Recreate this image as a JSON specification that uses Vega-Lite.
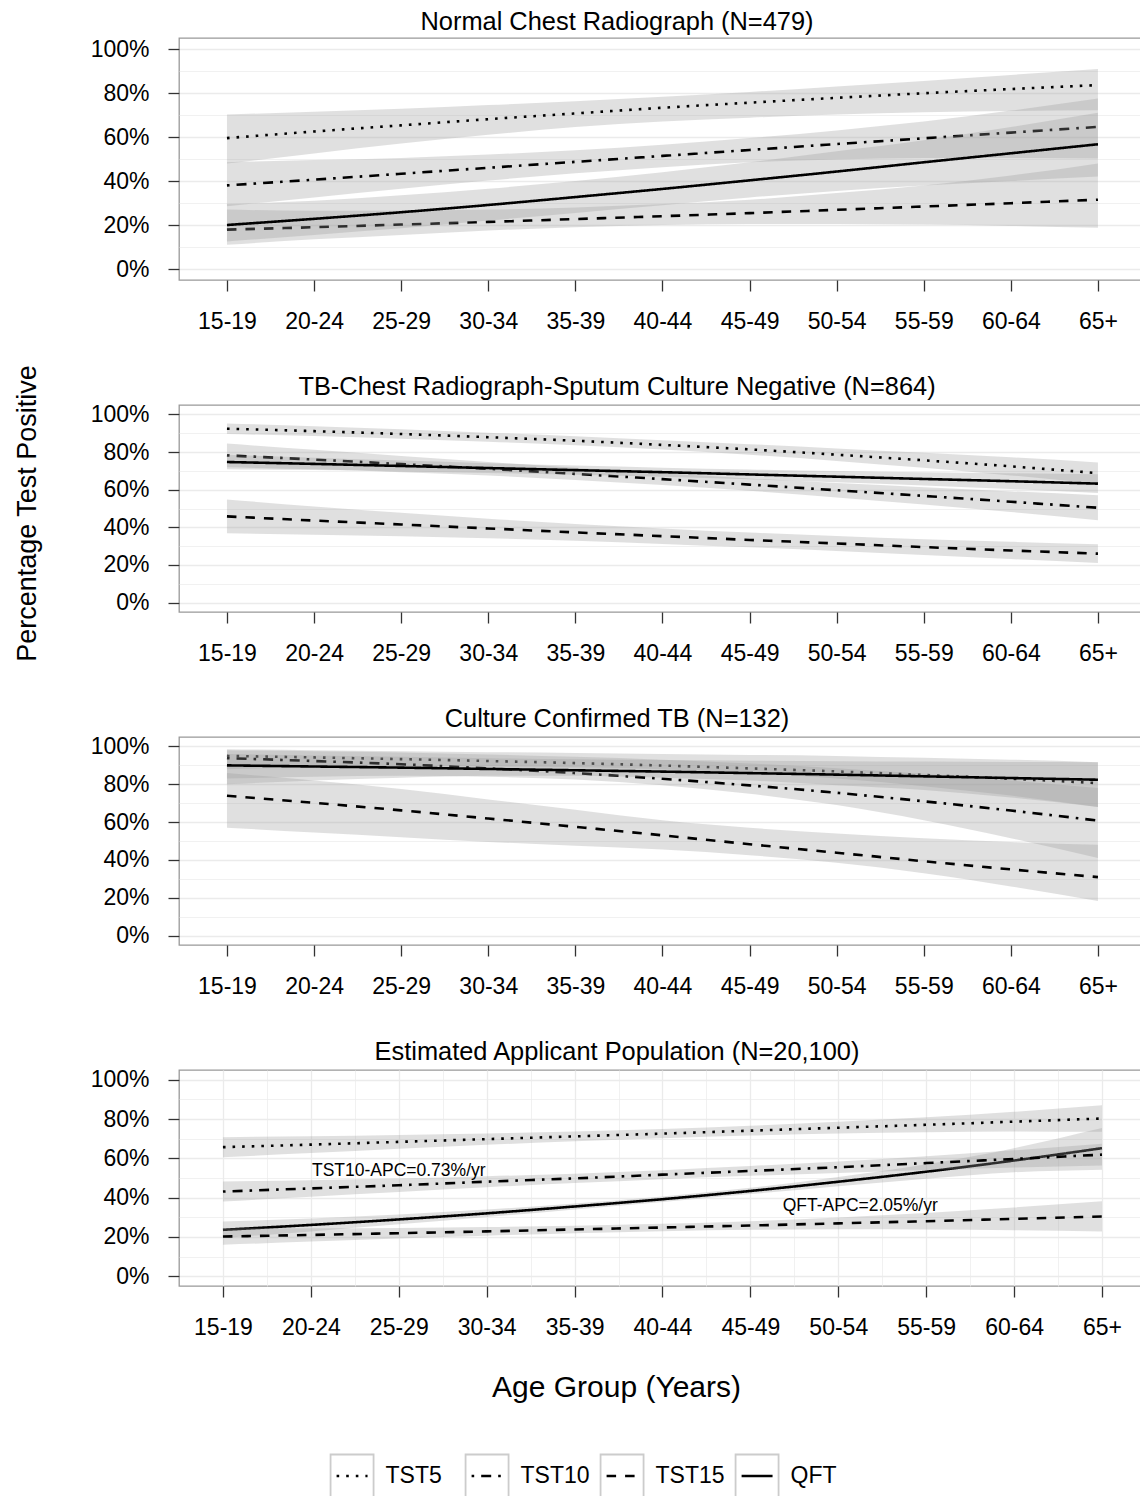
{
"$schema": "https://vega.github.io/schema/vega-lite/v6.json",
"padding": {"left": 12, "top": 8, "right": 0, "bottom": 0},
"background": "white",
"bounds": "flush",
"spacing": 125,
"config": {
  "font": "Liberation Sans",
  "view": {"stroke": "#999999", "strokeWidth": 1.3},
  "title": {"fontSize": 25.4, "fontWeight": "normal", "color": "#000000", "offset": 3},
  "axis": {"labelFontSize": 23, "labelColor": "#000000", "tickSize": 11, "tickColor": "#333333", "tickWidth": 1.3, "domain": false, "gridColor": "#EBEBEB", "titleFontWeight": "normal", "titleColor": "#000000"}
},
"datasets": {
"keys": [{"test": "TST5"}, {"test": "TST10"}, {"test": "TST15"}, {"test": "QFT"}],
"notes": [{"label": "TST10-APC=0.73%/yr", "i": 2, "pct": 0.537}, {"label": "QFT-APC=2.05%/yr", "i": 7.25, "pct": 0.358}],
"d": [
{"p":1,"test":"TST5","age":"15-19","i":0,"est":0.595,"lo":0.479,"hi":0.702},
{"p":1,"test":"TST5","age":"20-24","i":1,"est":0.625,"lo":0.525,"hi":0.715},
{"p":1,"test":"TST5","age":"25-29","i":2,"est":0.653,"lo":0.570,"hi":0.728},
{"p":1,"test":"TST5","age":"30-34","i":3,"est":0.681,"lo":0.610,"hi":0.745},
{"p":1,"test":"TST5","age":"35-39","i":4,"est":0.707,"lo":0.645,"hi":0.763},
{"p":1,"test":"TST5","age":"40-44","i":5,"est":0.733,"lo":0.670,"hi":0.783},
{"p":1,"test":"TST5","age":"45-49","i":6,"est":0.756,"lo":0.688,"hi":0.805},
{"p":1,"test":"TST5","age":"50-54","i":7,"est":0.778,"lo":0.702,"hi":0.830},
{"p":1,"test":"TST5","age":"55-59","i":8,"est":0.799,"lo":0.712,"hi":0.855},
{"p":1,"test":"TST5","age":"60-64","i":9,"est":0.818,"lo":0.718,"hi":0.882},
{"p":1,"test":"TST5","age":"65+","i":10,"est":0.836,"lo":0.722,"hi":0.909},
{"p":1,"test":"TST10","age":"15-19","i":0,"est":0.380,"lo":0.285,"hi":0.485},
{"p":1,"test":"TST10","age":"20-24","i":1,"est":0.406,"lo":0.325,"hi":0.495},
{"p":1,"test":"TST10","age":"25-29","i":2,"est":0.433,"lo":0.365,"hi":0.505},
{"p":1,"test":"TST10","age":"30-34","i":3,"est":0.460,"lo":0.402,"hi":0.520},
{"p":1,"test":"TST10","age":"35-39","i":4,"est":0.487,"lo":0.435,"hi":0.540},
{"p":1,"test":"TST10","age":"40-44","i":5,"est":0.514,"lo":0.463,"hi":0.565},
{"p":1,"test":"TST10","age":"45-49","i":6,"est":0.541,"lo":0.485,"hi":0.595},
{"p":1,"test":"TST10","age":"50-54","i":7,"est":0.568,"lo":0.498,"hi":0.630},
{"p":1,"test":"TST10","age":"55-59","i":8,"est":0.594,"lo":0.504,"hi":0.670},
{"p":1,"test":"TST10","age":"60-64","i":9,"est":0.620,"lo":0.505,"hi":0.720},
{"p":1,"test":"TST10","age":"65+","i":10,"est":0.646,"lo":0.502,"hi":0.775},
{"p":1,"test":"TST15","age":"15-19","i":0,"est":0.179,"lo":0.110,"hi":0.270},
{"p":1,"test":"TST15","age":"20-24","i":1,"est":0.190,"lo":0.135,"hi":0.265},
{"p":1,"test":"TST15","age":"25-29","i":2,"est":0.202,"lo":0.155,"hi":0.265},
{"p":1,"test":"TST15","age":"30-34","i":3,"est":0.214,"lo":0.175,"hi":0.270},
{"p":1,"test":"TST15","age":"35-39","i":4,"est":0.227,"lo":0.190,"hi":0.280},
{"p":1,"test":"TST15","age":"40-44","i":5,"est":0.240,"lo":0.200,"hi":0.295},
{"p":1,"test":"TST15","age":"45-49","i":6,"est":0.254,"lo":0.205,"hi":0.315},
{"p":1,"test":"TST15","age":"50-54","i":7,"est":0.269,"lo":0.205,"hi":0.345},
{"p":1,"test":"TST15","age":"55-59","i":8,"est":0.284,"lo":0.202,"hi":0.380},
{"p":1,"test":"TST15","age":"60-64","i":9,"est":0.299,"lo":0.196,"hi":0.425},
{"p":1,"test":"TST15","age":"65+","i":10,"est":0.315,"lo":0.187,"hi":0.480},
{"p":1,"test":"QFT","age":"15-19","i":0,"est":0.200,"lo":0.125,"hi":0.295},
{"p":1,"test":"QFT","age":"20-24","i":1,"est":0.228,"lo":0.155,"hi":0.310},
{"p":1,"test":"QFT","age":"25-29","i":2,"est":0.258,"lo":0.185,"hi":0.335},
{"p":1,"test":"QFT","age":"30-34","i":3,"est":0.291,"lo":0.220,"hi":0.365},
{"p":1,"test":"QFT","age":"35-39","i":4,"est":0.327,"lo":0.255,"hi":0.400},
{"p":1,"test":"QFT","age":"40-44","i":5,"est":0.364,"lo":0.290,"hi":0.440},
{"p":1,"test":"QFT","age":"45-49","i":6,"est":0.403,"lo":0.325,"hi":0.485},
{"p":1,"test":"QFT","age":"50-54","i":7,"est":0.443,"lo":0.355,"hi":0.535},
{"p":1,"test":"QFT","age":"55-59","i":8,"est":0.485,"lo":0.380,"hi":0.585},
{"p":1,"test":"QFT","age":"60-64","i":9,"est":0.526,"lo":0.400,"hi":0.645},
{"p":1,"test":"QFT","age":"65+","i":10,"est":0.567,"lo":0.420,"hi":0.710},
{"p":2,"test":"TST5","age":"15-19","i":0,"est":0.924,"lo":0.896,"hi":0.952},
{"p":2,"test":"TST5","age":"20-24","i":1,"est":0.911,"lo":0.885,"hi":0.937},
{"p":2,"test":"TST5","age":"25-29","i":2,"est":0.896,"lo":0.871,"hi":0.921},
{"p":2,"test":"TST5","age":"30-34","i":3,"est":0.879,"lo":0.855,"hi":0.903},
{"p":2,"test":"TST5","age":"35-39","i":4,"est":0.860,"lo":0.836,"hi":0.884},
{"p":2,"test":"TST5","age":"40-44","i":5,"est":0.838,"lo":0.813,"hi":0.863},
{"p":2,"test":"TST5","age":"45-49","i":6,"est":0.814,"lo":0.786,"hi":0.842},
{"p":2,"test":"TST5","age":"50-54","i":7,"est":0.786,"lo":0.753,"hi":0.819},
{"p":2,"test":"TST5","age":"55-59","i":8,"est":0.756,"lo":0.716,"hi":0.796},
{"p":2,"test":"TST5","age":"60-64","i":9,"est":0.724,"lo":0.676,"hi":0.772},
{"p":2,"test":"TST5","age":"65+","i":10,"est":0.688,"lo":0.631,"hi":0.745},
{"p":2,"test":"TST10","age":"15-19","i":0,"est":0.782,"lo":0.719,"hi":0.845},
{"p":2,"test":"TST10","age":"20-24","i":1,"est":0.760,"lo":0.708,"hi":0.812},
{"p":2,"test":"TST10","age":"25-29","i":2,"est":0.736,"lo":0.693,"hi":0.779},
{"p":2,"test":"TST10","age":"30-34","i":3,"est":0.711,"lo":0.675,"hi":0.747},
{"p":2,"test":"TST10","age":"35-39","i":4,"est":0.684,"lo":0.652,"hi":0.716},
{"p":2,"test":"TST10","age":"40-44","i":5,"est":0.656,"lo":0.625,"hi":0.687},
{"p":2,"test":"TST10","age":"45-49","i":6,"est":0.627,"lo":0.594,"hi":0.660},
{"p":2,"test":"TST10","age":"50-54","i":7,"est":0.597,"lo":0.559,"hi":0.635},
{"p":2,"test":"TST10","age":"55-59","i":8,"est":0.567,"lo":0.521,"hi":0.613},
{"p":2,"test":"TST10","age":"60-64","i":9,"est":0.536,"lo":0.481,"hi":0.591},
{"p":2,"test":"TST10","age":"65+","i":10,"est":0.504,"lo":0.438,"hi":0.570},
{"p":2,"test":"TST15","age":"15-19","i":0,"est":0.458,"lo":0.368,"hi":0.548},
{"p":2,"test":"TST15","age":"20-24","i":1,"est":0.436,"lo":0.361,"hi":0.511},
{"p":2,"test":"TST15","age":"25-29","i":2,"est":0.415,"lo":0.353,"hi":0.477},
{"p":2,"test":"TST15","age":"30-34","i":3,"est":0.394,"lo":0.342,"hi":0.446},
{"p":2,"test":"TST15","age":"35-39","i":4,"est":0.373,"lo":0.328,"hi":0.418},
{"p":2,"test":"TST15","age":"40-44","i":5,"est":0.353,"lo":0.312,"hi":0.394},
{"p":2,"test":"TST15","age":"45-49","i":6,"est":0.333,"lo":0.294,"hi":0.372},
{"p":2,"test":"TST15","age":"50-54","i":7,"est":0.314,"lo":0.274,"hi":0.354},
{"p":2,"test":"TST15","age":"55-59","i":8,"est":0.295,"lo":0.253,"hi":0.337},
{"p":2,"test":"TST15","age":"60-64","i":9,"est":0.277,"lo":0.231,"hi":0.323},
{"p":2,"test":"TST15","age":"65+","i":10,"est":0.260,"lo":0.210,"hi":0.310},
{"p":2,"test":"QFT","age":"15-19","i":0,"est":0.747,"lo":0.709,"hi":0.785},
{"p":2,"test":"QFT","age":"20-24","i":1,"est":0.737,"lo":0.704,"hi":0.770},
{"p":2,"test":"QFT","age":"25-29","i":2,"est":0.726,"lo":0.697,"hi":0.755},
{"p":2,"test":"QFT","age":"30-34","i":3,"est":0.715,"lo":0.689,"hi":0.741},
{"p":2,"test":"QFT","age":"35-39","i":4,"est":0.704,"lo":0.680,"hi":0.728},
{"p":2,"test":"QFT","age":"40-44","i":5,"est":0.693,"lo":0.669,"hi":0.717},
{"p":2,"test":"QFT","age":"45-49","i":6,"est":0.681,"lo":0.655,"hi":0.707},
{"p":2,"test":"QFT","age":"50-54","i":7,"est":0.669,"lo":0.639,"hi":0.699},
{"p":2,"test":"QFT","age":"55-59","i":8,"est":0.657,"lo":0.622,"hi":0.692},
{"p":2,"test":"QFT","age":"60-64","i":9,"est":0.645,"lo":0.603,"hi":0.687},
{"p":2,"test":"QFT","age":"65+","i":10,"est":0.632,"lo":0.582,"hi":0.682},
{"p":3,"test":"TST5","age":"15-19","i":0,"est":0.950,"lo":0.880,"hi":0.985},
{"p":3,"test":"TST5","age":"20-24","i":1,"est":0.942,"lo":0.890,"hi":0.980},
{"p":3,"test":"TST5","age":"25-29","i":2,"est":0.933,"lo":0.895,"hi":0.975},
{"p":3,"test":"TST5","age":"30-34","i":3,"est":0.923,"lo":0.895,"hi":0.970},
{"p":3,"test":"TST5","age":"35-39","i":4,"est":0.912,"lo":0.890,"hi":0.965},
{"p":3,"test":"TST5","age":"40-44","i":5,"est":0.899,"lo":0.880,"hi":0.960},
{"p":3,"test":"TST5","age":"45-49","i":6,"est":0.884,"lo":0.860,"hi":0.955},
{"p":3,"test":"TST5","age":"50-54","i":7,"est":0.868,"lo":0.830,"hi":0.950},
{"p":3,"test":"TST5","age":"55-59","i":8,"est":0.849,"lo":0.790,"hi":0.940},
{"p":3,"test":"TST5","age":"60-64","i":9,"est":0.829,"lo":0.740,"hi":0.930},
{"p":3,"test":"TST5","age":"65+","i":10,"est":0.806,"lo":0.680,"hi":0.917},
{"p":3,"test":"TST10","age":"15-19","i":0,"est":0.938,"lo":0.830,"hi":0.980},
{"p":3,"test":"TST10","age":"20-24","i":1,"est":0.923,"lo":0.840,"hi":0.975},
{"p":3,"test":"TST10","age":"25-29","i":2,"est":0.906,"lo":0.845,"hi":0.968},
{"p":3,"test":"TST10","age":"30-34","i":3,"est":0.884,"lo":0.840,"hi":0.958},
{"p":3,"test":"TST10","age":"35-39","i":4,"est":0.859,"lo":0.825,"hi":0.945},
{"p":3,"test":"TST10","age":"40-44","i":5,"est":0.829,"lo":0.795,"hi":0.930},
{"p":3,"test":"TST10","age":"45-49","i":6,"est":0.794,"lo":0.750,"hi":0.910},
{"p":3,"test":"TST10","age":"50-54","i":7,"est":0.755,"lo":0.690,"hi":0.885},
{"p":3,"test":"TST10","age":"55-59","i":8,"est":0.710,"lo":0.610,"hi":0.855},
{"p":3,"test":"TST10","age":"60-64","i":9,"est":0.661,"lo":0.515,"hi":0.820},
{"p":3,"test":"TST10","age":"65+","i":10,"est":0.608,"lo":0.410,"hi":0.780},
{"p":3,"test":"TST15","age":"15-19","i":0,"est":0.739,"lo":0.570,"hi":0.860},
{"p":3,"test":"TST15","age":"20-24","i":1,"est":0.702,"lo":0.545,"hi":0.820},
{"p":3,"test":"TST15","age":"25-29","i":2,"est":0.662,"lo":0.520,"hi":0.775},
{"p":3,"test":"TST15","age":"30-34","i":3,"est":0.619,"lo":0.495,"hi":0.720},
{"p":3,"test":"TST15","age":"35-39","i":4,"est":0.575,"lo":0.475,"hi":0.665},
{"p":3,"test":"TST15","age":"40-44","i":5,"est":0.530,"lo":0.455,"hi":0.610},
{"p":3,"test":"TST15","age":"45-49","i":6,"est":0.483,"lo":0.425,"hi":0.570},
{"p":3,"test":"TST15","age":"50-54","i":7,"est":0.438,"lo":0.385,"hi":0.540},
{"p":3,"test":"TST15","age":"55-59","i":8,"est":0.393,"lo":0.330,"hi":0.515},
{"p":3,"test":"TST15","age":"60-64","i":9,"est":0.350,"lo":0.260,"hi":0.495},
{"p":3,"test":"TST15","age":"65+","i":10,"est":0.309,"lo":0.183,"hi":0.480},
{"p":3,"test":"QFT","age":"15-19","i":0,"est":0.900,"lo":0.800,"hi":0.960},
{"p":3,"test":"QFT","age":"20-24","i":1,"est":0.894,"lo":0.820,"hi":0.952},
{"p":3,"test":"QFT","age":"25-29","i":2,"est":0.888,"lo":0.835,"hi":0.945},
{"p":3,"test":"QFT","age":"30-34","i":3,"est":0.881,"lo":0.845,"hi":0.938},
{"p":3,"test":"QFT","age":"35-39","i":4,"est":0.874,"lo":0.845,"hi":0.932},
{"p":3,"test":"QFT","age":"40-44","i":5,"est":0.867,"lo":0.835,"hi":0.928},
{"p":3,"test":"QFT","age":"45-49","i":6,"est":0.859,"lo":0.820,"hi":0.925},
{"p":3,"test":"QFT","age":"50-54","i":7,"est":0.851,"lo":0.795,"hi":0.922},
{"p":3,"test":"QFT","age":"55-59","i":8,"est":0.842,"lo":0.770,"hi":0.920},
{"p":3,"test":"QFT","age":"60-64","i":9,"est":0.833,"lo":0.730,"hi":0.918},
{"p":3,"test":"QFT","age":"65+","i":10,"est":0.824,"lo":0.680,"hi":0.917},
{"p":4,"test":"QFT","age":"15-19","i":0,"est":0.236,"lo":0.194,"hi":0.278},
{"p":4,"test":"QFT","age":"20-24","i":1,"est":0.261,"lo":0.228,"hi":0.294},
{"p":4,"test":"QFT","age":"25-29","i":2,"est":0.289,"lo":0.264,"hi":0.314},
{"p":4,"test":"QFT","age":"30-34","i":3,"est":0.320,"lo":0.301,"hi":0.339},
{"p":4,"test":"QFT","age":"35-39","i":4,"est":0.355,"lo":0.340,"hi":0.370},
{"p":4,"test":"QFT","age":"40-44","i":5,"est":0.392,"lo":0.378,"hi":0.406},
{"p":4,"test":"QFT","age":"45-49","i":6,"est":0.434,"lo":0.418,"hi":0.450},
{"p":4,"test":"QFT","age":"50-54","i":7,"est":0.481,"lo":0.458,"hi":0.505},
{"p":4,"test":"QFT","age":"55-59","i":8,"est":0.532,"lo":0.496,"hi":0.570},
{"p":4,"test":"QFT","age":"60-64","i":9,"est":0.589,"lo":0.529,"hi":0.652},
{"p":4,"test":"QFT","age":"65+","i":10,"est":0.652,"lo":0.542,"hi":0.754},
{"p":4,"test":"TST5","age":"15-19","i":0,"est":0.657,"lo":0.606,"hi":0.708},
{"p":4,"test":"TST5","age":"20-24","i":1,"est":0.670,"lo":0.627,"hi":0.713},
{"p":4,"test":"TST5","age":"25-29","i":2,"est":0.684,"lo":0.649,"hi":0.719},
{"p":4,"test":"TST5","age":"30-34","i":3,"est":0.698,"lo":0.669,"hi":0.727},
{"p":4,"test":"TST5","age":"35-39","i":4,"est":0.712,"lo":0.687,"hi":0.737},
{"p":4,"test":"TST5","age":"40-44","i":5,"est":0.726,"lo":0.703,"hi":0.749},
{"p":4,"test":"TST5","age":"45-49","i":6,"est":0.741,"lo":0.716,"hi":0.766},
{"p":4,"test":"TST5","age":"50-54","i":7,"est":0.756,"lo":0.726,"hi":0.786},
{"p":4,"test":"TST5","age":"55-59","i":8,"est":0.771,"lo":0.733,"hi":0.809},
{"p":4,"test":"TST5","age":"60-64","i":9,"est":0.787,"lo":0.737,"hi":0.837},
{"p":4,"test":"TST5","age":"65+","i":10,"est":0.803,"lo":0.735,"hi":0.871},
{"p":4,"test":"TST10","age":"15-19","i":0,"est":0.431,"lo":0.380,"hi":0.482},
{"p":4,"test":"TST10","age":"20-24","i":1,"est":0.447,"lo":0.405,"hi":0.489},
{"p":4,"test":"TST10","age":"25-29","i":2,"est":0.463,"lo":0.429,"hi":0.497},
{"p":4,"test":"TST10","age":"30-34","i":3,"est":0.481,"lo":0.453,"hi":0.509},
{"p":4,"test":"TST10","age":"35-39","i":4,"est":0.498,"lo":0.474,"hi":0.522},
{"p":4,"test":"TST10","age":"40-44","i":5,"est":0.517,"lo":0.494,"hi":0.540},
{"p":4,"test":"TST10","age":"45-49","i":6,"est":0.536,"lo":0.511,"hi":0.561},
{"p":4,"test":"TST10","age":"50-54","i":7,"est":0.555,"lo":0.526,"hi":0.584},
{"p":4,"test":"TST10","age":"55-59","i":8,"est":0.576,"lo":0.541,"hi":0.611},
{"p":4,"test":"TST10","age":"60-64","i":9,"est":0.597,"lo":0.553,"hi":0.641},
{"p":4,"test":"TST10","age":"65+","i":10,"est":0.619,"lo":0.564,"hi":0.674},
{"p":4,"test":"TST15","age":"15-19","i":0,"est":0.202,"lo":0.160,"hi":0.244},
{"p":4,"test":"TST15","age":"20-24","i":1,"est":0.210,"lo":0.176,"hi":0.244},
{"p":4,"test":"TST15","age":"25-29","i":2,"est":0.219,"lo":0.192,"hi":0.246},
{"p":4,"test":"TST15","age":"30-34","i":3,"est":0.228,"lo":0.206,"hi":0.250},
{"p":4,"test":"TST15","age":"35-39","i":4,"est":0.238,"lo":0.219,"hi":0.257},
{"p":4,"test":"TST15","age":"40-44","i":5,"est":0.248,"lo":0.229,"hi":0.267},
{"p":4,"test":"TST15","age":"45-49","i":6,"est":0.258,"lo":0.236,"hi":0.280},
{"p":4,"test":"TST15","age":"50-54","i":7,"est":0.269,"lo":0.239,"hi":0.299},
{"p":4,"test":"TST15","age":"55-59","i":8,"est":0.280,"lo":0.238,"hi":0.322},
{"p":4,"test":"TST15","age":"60-64","i":9,"est":0.292,"lo":0.234,"hi":0.350},
{"p":4,"test":"TST15","age":"65+","i":10,"est":0.304,"lo":0.227,"hi":0.381}
]
},
"vconcat": [
{
  "width": 962, "height": 242,
  "title": {"text": "Normal Chest Radiograph (N=479)", "dx": -43},
  "data": {"name": "d"},
  "encoding": {
    "x": {"field": "age", "type": "ordinal", "scale": {"type": "point", "domain": ["15-19","20-24","25-29","30-34","35-39","40-44","45-49","50-54","55-59","60-64","65+"], "padding": 0.5224, "align": 0.527}, "axis": {"title": null, "labelAngle": 0, "labelPadding": 19, "gridWidth": 1.3}},
    "y": {"field": "est", "type": "quantitative", "scale": {"domain": [-0.05, 1.05], "nice": false, "zero": false}, "axis": {"title": "Percentage Test Positive", "titleFontSize": 27, "titleX": -144, "titleY": 475, "titleBaseline": "alphabetic", "values": [0,0.1,0.2,0.3,0.4,0.5,0.6,0.7,0.8,0.9,1], "format": ".0%", "labelPadding": 19, "labelExpr": "round(datum.value*10)%2==0 ? datum.label : ''", "tickColor": {"condition": {"test": "round(datum.value*10)%2!=0", "value": "transparent"}, "value": "#333333"}, "gridWidth": {"condition": {"test": "round(datum.value*10)%2!=0", "value": 0.7}, "value": 1.3}}}
  },
  "layer": [
    {"transform": [{"filter": "datum.p==1 && datum.test=='TST5'"}], "mark": {"type": "area", "fill": "#999999", "fillOpacity": 0.3, "interpolate": "monotone"}, "encoding": {"y": {"field": "lo", "type": "quantitative"}, "y2": {"field": "hi"}}},
    {"transform": [{"filter": "datum.p==1 && datum.test=='TST5'"}], "mark": {"type": "line", "color": "#000000", "strokeWidth": 2.6, "interpolate": "monotone"}, "encoding": {"strokeDash": {"field": "test", "type": "nominal", "scale": {"domain": ["TST5","TST10","TST15","QFT"], "range": [[2.6,7],[2.6,7,10,7],[9.5,9],[1,0]]}, "legend": null}}},
    {"transform": [{"filter": "datum.p==1 && datum.test=='TST10'"}], "mark": {"type": "area", "fill": "#999999", "fillOpacity": 0.3, "interpolate": "monotone"}, "encoding": {"y": {"field": "lo", "type": "quantitative"}, "y2": {"field": "hi"}}},
    {"transform": [{"filter": "datum.p==1 && datum.test=='TST10'"}], "mark": {"type": "line", "color": "#000000", "strokeWidth": 2.6, "interpolate": "monotone"}, "encoding": {"strokeDash": {"field": "test", "type": "nominal", "scale": {"domain": ["TST5","TST10","TST15","QFT"], "range": [[2.6,7],[2.6,7,10,7],[9.5,9],[1,0]]}, "legend": null}}},
    {"transform": [{"filter": "datum.p==1 && datum.test=='TST15'"}], "mark": {"type": "area", "fill": "#999999", "fillOpacity": 0.3, "interpolate": "monotone"}, "encoding": {"y": {"field": "lo", "type": "quantitative"}, "y2": {"field": "hi"}}},
    {"transform": [{"filter": "datum.p==1 && datum.test=='TST15'"}], "mark": {"type": "line", "color": "#000000", "strokeWidth": 2.6, "interpolate": "monotone"}, "encoding": {"strokeDash": {"field": "test", "type": "nominal", "scale": {"domain": ["TST5","TST10","TST15","QFT"], "range": [[2.6,7],[2.6,7,10,7],[9.5,9],[1,0]]}, "legend": null}}},
    {"transform": [{"filter": "datum.p==1 && datum.test=='QFT'"}], "mark": {"type": "area", "fill": "#999999", "fillOpacity": 0.3, "interpolate": "monotone"}, "encoding": {"y": {"field": "lo", "type": "quantitative"}, "y2": {"field": "hi"}}},
    {"transform": [{"filter": "datum.p==1 && datum.test=='QFT'"}], "mark": {"type": "line", "color": "#000000", "strokeWidth": 2.6, "interpolate": "monotone"}, "encoding": {"strokeDash": {"field": "test", "type": "nominal", "scale": {"domain": ["TST5","TST10","TST15","QFT"], "range": [[2.6,7],[2.6,7,10,7],[9.5,9],[1,0]]}, "legend": null}}}
  ]
},
{
  "width": 962, "height": 207,
  "title": {"text": "TB-Chest Radiograph-Sputum Culture Negative (N=864)", "dx": -43},
  "data": {"name": "d"},
  "encoding": {
    "x": {"field": "age", "type": "ordinal", "scale": {"type": "point", "domain": ["15-19","20-24","25-29","30-34","35-39","40-44","45-49","50-54","55-59","60-64","65+"], "padding": 0.5224, "align": 0.527}, "axis": {"title": null, "labelAngle": 0, "labelPadding": 19, "gridWidth": 1.3}},
    "y": {"field": "est", "type": "quantitative", "scale": {"domain": [-0.05, 1.05], "nice": false, "zero": false}, "axis": {"title": null, "values": [0,0.1,0.2,0.3,0.4,0.5,0.6,0.7,0.8,0.9,1], "format": ".0%", "labelPadding": 19, "labelExpr": "round(datum.value*10)%2==0 ? datum.label : ''", "tickColor": {"condition": {"test": "round(datum.value*10)%2!=0", "value": "transparent"}, "value": "#333333"}, "gridWidth": {"condition": {"test": "round(datum.value*10)%2!=0", "value": 0.7}, "value": 1.3}}}
  },
  "layer": [
    {"transform": [{"filter": "datum.p==2 && datum.test=='TST5'"}], "mark": {"type": "area", "fill": "#999999", "fillOpacity": 0.3, "interpolate": "monotone"}, "encoding": {"y": {"field": "lo", "type": "quantitative"}, "y2": {"field": "hi"}}},
    {"transform": [{"filter": "datum.p==2 && datum.test=='TST5'"}], "mark": {"type": "line", "color": "#000000", "strokeWidth": 2.6, "interpolate": "monotone"}, "encoding": {"strokeDash": {"field": "test", "type": "nominal", "scale": {"domain": ["TST5","TST10","TST15","QFT"], "range": [[2.6,7],[2.6,7,10,7],[9.5,9],[1,0]]}, "legend": null}}},
    {"transform": [{"filter": "datum.p==2 && datum.test=='TST10'"}], "mark": {"type": "area", "fill": "#999999", "fillOpacity": 0.3, "interpolate": "monotone"}, "encoding": {"y": {"field": "lo", "type": "quantitative"}, "y2": {"field": "hi"}}},
    {"transform": [{"filter": "datum.p==2 && datum.test=='TST10'"}], "mark": {"type": "line", "color": "#000000", "strokeWidth": 2.6, "interpolate": "monotone"}, "encoding": {"strokeDash": {"field": "test", "type": "nominal", "scale": {"domain": ["TST5","TST10","TST15","QFT"], "range": [[2.6,7],[2.6,7,10,7],[9.5,9],[1,0]]}, "legend": null}}},
    {"transform": [{"filter": "datum.p==2 && datum.test=='TST15'"}], "mark": {"type": "area", "fill": "#999999", "fillOpacity": 0.3, "interpolate": "monotone"}, "encoding": {"y": {"field": "lo", "type": "quantitative"}, "y2": {"field": "hi"}}},
    {"transform": [{"filter": "datum.p==2 && datum.test=='TST15'"}], "mark": {"type": "line", "color": "#000000", "strokeWidth": 2.6, "interpolate": "monotone"}, "encoding": {"strokeDash": {"field": "test", "type": "nominal", "scale": {"domain": ["TST5","TST10","TST15","QFT"], "range": [[2.6,7],[2.6,7,10,7],[9.5,9],[1,0]]}, "legend": null}}},
    {"transform": [{"filter": "datum.p==2 && datum.test=='QFT'"}], "mark": {"type": "area", "fill": "#999999", "fillOpacity": 0.3, "interpolate": "monotone"}, "encoding": {"y": {"field": "lo", "type": "quantitative"}, "y2": {"field": "hi"}}},
    {"transform": [{"filter": "datum.p==2 && datum.test=='QFT'"}], "mark": {"type": "line", "color": "#000000", "strokeWidth": 2.6, "interpolate": "monotone"}, "encoding": {"strokeDash": {"field": "test", "type": "nominal", "scale": {"domain": ["TST5","TST10","TST15","QFT"], "range": [[2.6,7],[2.6,7,10,7],[9.5,9],[1,0]]}, "legend": null}}}
  ]
},
{
  "width": 962, "height": 208,
  "title": {"text": "Culture Confirmed TB (N=132)", "dx": -43},
  "data": {"name": "d"},
  "encoding": {
    "x": {"field": "age", "type": "ordinal", "scale": {"type": "point", "domain": ["15-19","20-24","25-29","30-34","35-39","40-44","45-49","50-54","55-59","60-64","65+"], "padding": 0.5224, "align": 0.527}, "axis": {"title": null, "labelAngle": 0, "labelPadding": 19, "gridWidth": 1.3}},
    "y": {"field": "est", "type": "quantitative", "scale": {"domain": [-0.05, 1.05], "nice": false, "zero": false}, "axis": {"title": null, "values": [0,0.1,0.2,0.3,0.4,0.5,0.6,0.7,0.8,0.9,1], "format": ".0%", "labelPadding": 19, "labelExpr": "round(datum.value*10)%2==0 ? datum.label : ''", "tickColor": {"condition": {"test": "round(datum.value*10)%2!=0", "value": "transparent"}, "value": "#333333"}, "gridWidth": {"condition": {"test": "round(datum.value*10)%2!=0", "value": 0.7}, "value": 1.3}}}
  },
  "layer": [
    {"transform": [{"filter": "datum.p==3 && datum.test=='TST5'"}], "mark": {"type": "area", "fill": "#999999", "fillOpacity": 0.3, "interpolate": "monotone"}, "encoding": {"y": {"field": "lo", "type": "quantitative"}, "y2": {"field": "hi"}}},
    {"transform": [{"filter": "datum.p==3 && datum.test=='TST5'"}], "mark": {"type": "line", "color": "#000000", "strokeWidth": 2.6, "interpolate": "monotone"}, "encoding": {"strokeDash": {"field": "test", "type": "nominal", "scale": {"domain": ["TST5","TST10","TST15","QFT"], "range": [[2.6,7],[2.6,7,10,7],[9.5,9],[1,0]]}, "legend": null}}},
    {"transform": [{"filter": "datum.p==3 && datum.test=='TST10'"}], "mark": {"type": "area", "fill": "#999999", "fillOpacity": 0.3, "interpolate": "monotone"}, "encoding": {"y": {"field": "lo", "type": "quantitative"}, "y2": {"field": "hi"}}},
    {"transform": [{"filter": "datum.p==3 && datum.test=='TST10'"}], "mark": {"type": "line", "color": "#000000", "strokeWidth": 2.6, "interpolate": "monotone"}, "encoding": {"strokeDash": {"field": "test", "type": "nominal", "scale": {"domain": ["TST5","TST10","TST15","QFT"], "range": [[2.6,7],[2.6,7,10,7],[9.5,9],[1,0]]}, "legend": null}}},
    {"transform": [{"filter": "datum.p==3 && datum.test=='TST15'"}], "mark": {"type": "area", "fill": "#999999", "fillOpacity": 0.3, "interpolate": "monotone"}, "encoding": {"y": {"field": "lo", "type": "quantitative"}, "y2": {"field": "hi"}}},
    {"transform": [{"filter": "datum.p==3 && datum.test=='TST15'"}], "mark": {"type": "line", "color": "#000000", "strokeWidth": 2.6, "interpolate": "monotone"}, "encoding": {"strokeDash": {"field": "test", "type": "nominal", "scale": {"domain": ["TST5","TST10","TST15","QFT"], "range": [[2.6,7],[2.6,7,10,7],[9.5,9],[1,0]]}, "legend": null}}},
    {"transform": [{"filter": "datum.p==3 && datum.test=='QFT'"}], "mark": {"type": "area", "fill": "#999999", "fillOpacity": 0.3, "interpolate": "monotone"}, "encoding": {"y": {"field": "lo", "type": "quantitative"}, "y2": {"field": "hi"}}},
    {"transform": [{"filter": "datum.p==3 && datum.test=='QFT'"}], "mark": {"type": "line", "color": "#000000", "strokeWidth": 2.6, "interpolate": "monotone"}, "encoding": {"strokeDash": {"field": "test", "type": "nominal", "scale": {"domain": ["TST5","TST10","TST15","QFT"], "range": [[2.6,7],[2.6,7,10,7],[9.5,9],[1,0]]}, "legend": null}}}
  ]
},
{
  "width": 962, "height": 216,
  "title": {"text": "Estimated Applicant Population (N=20,100)", "dx": -43},
  "data": {"name": "d"},
  "encoding": {
    "x": {"field": "i", "type": "quantitative", "scale": {"domain": [-0.5, 10.444], "nice": false, "zero": false}, "axis": {"title": "Age Group (Years)", "titleFontSize": 30, "titleX": 437, "titleY": 110, "titleBaseline": "alphabetic", "values": [0,0.5,1,1.5,2,2.5,3,3.5,4,4.5,5,5.5,6,6.5,7,7.5,8,8.5,9,9.5,10], "labelExpr": "datum.value%1==0 ? ['15-19','20-24','25-29','30-34','35-39','40-44','45-49','50-54','55-59','60-64','65+'][datum.value] : ''", "labelFlush": false, "labelOverlap": false, "labelPadding": 19, "tickColor": {"condition": {"test": "datum.value%1!=0", "value": "transparent"}, "value": "#333333"}, "gridWidth": {"condition": {"test": "datum.value%1!=0", "value": 0.7}, "value": 1.3}}},
    "y": {"field": "est", "type": "quantitative", "scale": {"domain": [-0.05, 1.05], "nice": false, "zero": false}, "axis": {"title": null, "values": [0,0.1,0.2,0.3,0.4,0.5,0.6,0.7,0.8,0.9,1], "format": ".0%", "labelPadding": 19, "labelExpr": "round(datum.value*10)%2==0 ? datum.label : ''", "tickColor": {"condition": {"test": "round(datum.value*10)%2!=0", "value": "transparent"}, "value": "#333333"}, "gridWidth": {"condition": {"test": "round(datum.value*10)%2!=0", "value": 0.7}, "value": 1.3}}}
  },
  "layer": [
    {"transform": [{"filter": "datum.p==4 && datum.test=='QFT'"}], "mark": {"type": "area", "fill": "#999999", "fillOpacity": 0.3, "interpolate": "monotone"}, "encoding": {"y": {"field": "lo", "type": "quantitative"}, "y2": {"field": "hi"}}},
    {"transform": [{"filter": "datum.p==4 && datum.test=='QFT'"}], "mark": {"type": "line", "color": "#000000", "strokeWidth": 2.6, "interpolate": "monotone"}, "encoding": {"strokeDash": {"field": "test", "type": "nominal", "scale": {"domain": ["TST5","TST10","TST15","QFT"], "range": [[2.6,7],[2.6,7,10,7],[9.5,9],[1,0]]}, "legend": null}}},
    {"transform": [{"filter": "datum.p==4 && datum.test=='TST5'"}], "mark": {"type": "area", "fill": "#999999", "fillOpacity": 0.3, "interpolate": "monotone"}, "encoding": {"y": {"field": "lo", "type": "quantitative"}, "y2": {"field": "hi"}}},
    {"transform": [{"filter": "datum.p==4 && datum.test=='TST5'"}], "mark": {"type": "line", "color": "#000000", "strokeWidth": 2.6, "interpolate": "monotone"}, "encoding": {"strokeDash": {"field": "test", "type": "nominal", "scale": {"domain": ["TST5","TST10","TST15","QFT"], "range": [[2.6,7],[2.6,7,10,7],[9.5,9],[1,0]]}, "legend": null}}},
    {"transform": [{"filter": "datum.p==4 && datum.test=='TST10'"}], "mark": {"type": "area", "fill": "#999999", "fillOpacity": 0.3, "interpolate": "monotone"}, "encoding": {"y": {"field": "lo", "type": "quantitative"}, "y2": {"field": "hi"}}},
    {"transform": [{"filter": "datum.p==4 && datum.test=='TST10'"}], "mark": {"type": "line", "color": "#000000", "strokeWidth": 2.6, "interpolate": "monotone"}, "encoding": {"strokeDash": {"field": "test", "type": "nominal", "scale": {"domain": ["TST5","TST10","TST15","QFT"], "range": [[2.6,7],[2.6,7,10,7],[9.5,9],[1,0]]}, "legend": null}}},
    {"transform": [{"filter": "datum.p==4 && datum.test=='TST15'"}], "mark": {"type": "area", "fill": "#999999", "fillOpacity": 0.3, "interpolate": "monotone"}, "encoding": {"y": {"field": "lo", "type": "quantitative"}, "y2": {"field": "hi"}}},
    {"transform": [{"filter": "datum.p==4 && datum.test=='TST15'"}], "mark": {"type": "line", "color": "#000000", "strokeWidth": 2.6, "interpolate": "monotone"}, "encoding": {"strokeDash": {"field": "test", "type": "nominal", "scale": {"domain": ["TST5","TST10","TST15","QFT"], "range": [[2.6,7],[2.6,7,10,7],[9.5,9],[1,0]]}, "legend": null}}},
    {"data": {"name": "notes"}, "mark": {"type": "text", "fontSize": 17.5, "color": "#000000", "baseline": "middle", "align": "center"}, "encoding": {"x": {"field": "i", "type": "quantitative"}, "y": {"field": "pct", "type": "quantitative"}, "text": {"field": "label"}}}
  ]
},
{
  "width": 675, "height": 84,
  "view": {"stroke": null},
  "data": {"name": "keys"},
  "encoding": {
    "x": {"field": "test", "type": "nominal", "scale": {"type": "point", "domain": ["TST5","TST10","TST15","QFT"], "padding": 1, "align": 0.641}, "axis": null}
  },
  "layer": [
    {"mark": {"type": "point", "shape": "square", "size": 1849, "filled": false, "stroke": "#CCCCCC", "strokeWidth": 1.8, "opacity": 1, "yOffset": 23}},
    {"mark": {"type": "point", "shape": "M-0.72,0H0.72", "size": 1849, "filled": false, "stroke": "#000000", "strokeWidth": 2.4, "opacity": 1, "yOffset": 23}, "encoding": {"strokeDash": {"field": "test", "type": "nominal", "scale": {"domain": ["TST5","TST10","TST15","QFT"], "range": [[2.6,7],[2.6,7,10,7],[9.5,9],[1,0]]}, "legend": null}}},
    {"mark": {"type": "text", "align": "left", "baseline": "middle", "dx": 33.5, "yOffset": 23, "fontSize": 23, "color": "#000000"}, "encoding": {"text": {"field": "test"}}}
  ]
}
]
}
